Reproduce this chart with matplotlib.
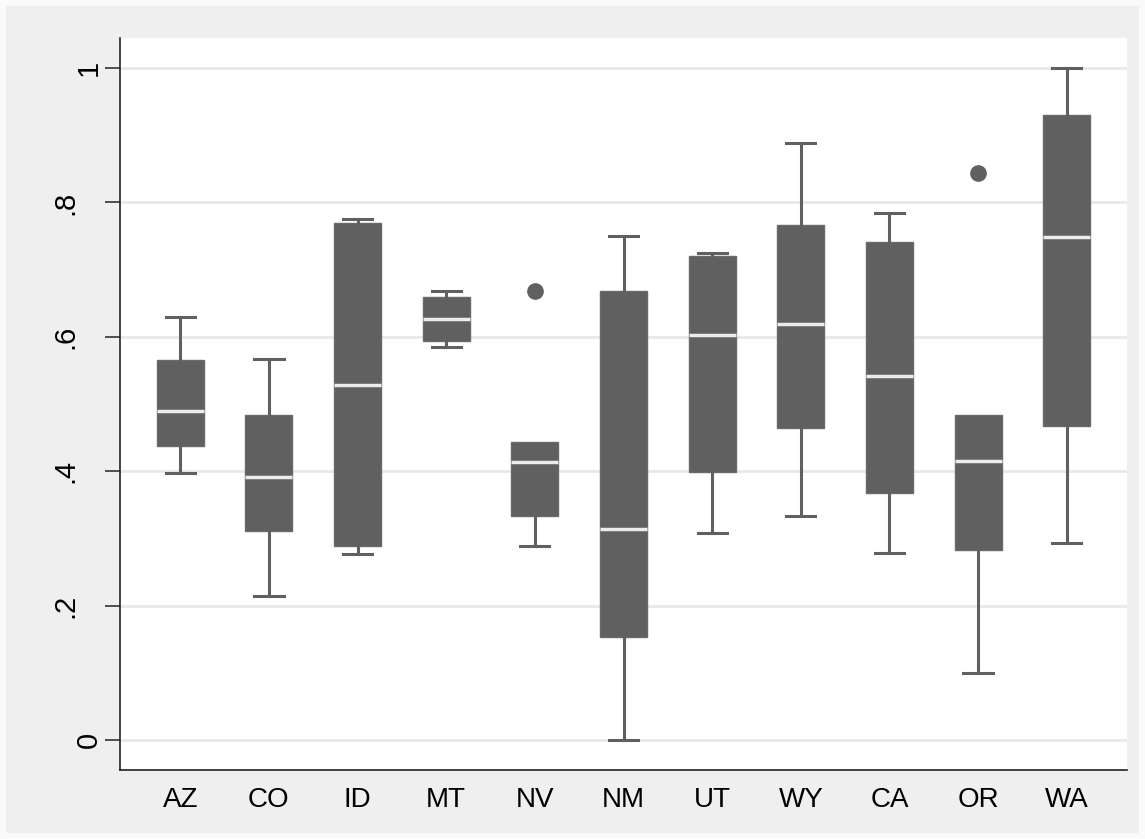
import matplotlib
matplotlib.use("Agg")
import matplotlib.pyplot as plt
from matplotlib.patches import Rectangle

# box plot summary (lower whisker, q1, median, q3, upper whisker)
states = ["AZ", "CO", "ID", "MT", "NV", "NM", "UT", "WY", "CA", "OR", "WA"]
whislo = [0.398, 0.214, 0.277, 0.585, 0.289, 0.000, 0.3075, 0.333, 0.278, 0.100, 0.293]
q1 = [0.438, 0.3115, 0.288, 0.594, 0.333, 0.1536, 0.399, 0.464, 0.368, 0.283, 0.468]
med = [0.489, 0.391, 0.528, 0.627, 0.414, 0.3146, 0.602, 0.619, 0.5417, 0.4147, 0.749]
q3 = [0.566, 0.484, 0.769, 0.6585, 0.444, 0.668, 0.7207, 0.766, 0.741, 0.483, 0.930]
whishi = [0.629, 0.5665, 0.776, 0.668, 0.444, 0.750, 0.724, 0.889, 0.784, 0.483, 1.000]
outliers = [[], [], [], [], [0.668], [], [], [], [], [0.844], []]

yticks = [0, 0.2, 0.4, 0.6, 0.8, 1.0]
yticklabels = ["0", ".2", ".4", ".6", ".8", "1"]

plt.rcParams['font.family'] = ['Liberation Sans', 'DejaVu Sans']

fig = plt.figure(figsize=(11.45, 8.39), dpi=100)
fig.patch.set_facecolor("#fafafa")
fig.patches.append(Rectangle((6 / 1145, 6 / 839), 1 - 12 / 1145, 1 - 12 / 839,
                             transform=fig.transFigure, facecolor="#efefef",
                             edgecolor="none", zorder=-5))

ax = fig.add_axes([120 / 1145, 1 - 770 / 839, 1007 / 1145, 732 / 839])
ax.set_facecolor("white")

stats = []
for i in range(len(states)):
    stats.append({"label": states[i], "whislo": whislo[i], "q1": q1[i], "med": med[i],
                  "q3": q3[i], "whishi": whishi[i], "fliers": outliers[i]})

box_col = "#606060"
parts = ax.bxp(stats, positions=range(len(states)), widths=0.53, capwidths=0.33,
               patch_artist=True,
               boxprops=dict(facecolor=box_col, edgecolor="#6a6a6a", linewidth=1),
               medianprops=dict(color="#ececec", linewidth=2.5),
               whiskerprops=dict(color=box_col, linewidth=2.2),
               capprops=dict(color=box_col, linewidth=2.2),
               flierprops=dict(marker="o", markerfacecolor=box_col, markeredgecolor=box_col,
                               markersize=11),
               zorder=3)

# no upper cap where the upper whisker has zero length
for i in range(len(states)):
    if whishi[i] <= q3[i]:
        parts["caps"][2 * i + 1].set_visible(False)

ax.set_xlim(-0.68, 10.68)
ax.set_ylim(-0.0446, 1.0446)
ax.set_yticks(yticks)
ax.set_yticklabels([])
ax.set_xticks(range(len(states)))
ax.set_xticklabels(states, fontsize=20)
ax.tick_params(axis="x", length=0, pad=12)
ax.tick_params(axis="y", length=11, width=1.2, color="#333333")

# y labels drawn by hand: the plain digits sit closer to the axis than the ".x" ones
for v, lab in zip(yticks, yticklabels):
    xpos = -23 / 1007 if "." not in lab else -47 / 1007
    ax.text(xpos, v, lab, transform=ax.get_yaxis_transform(), rotation=90,
            rotation_mode="anchor", ha="center", va="baseline", fontsize=21)

ax.grid(axis="y", color="#e8e8e8", linewidth=2, zorder=0)
ax.set_axisbelow(True)

for s in ["top", "right"]:
    ax.spines[s].set_visible(False)
for s in ["left", "bottom"]:
    ax.spines[s].set_color("#222222")
    ax.spines[s].set_linewidth(1.2)

fig.savefig("out.png", dpi=100, facecolor=fig.get_facecolor())
